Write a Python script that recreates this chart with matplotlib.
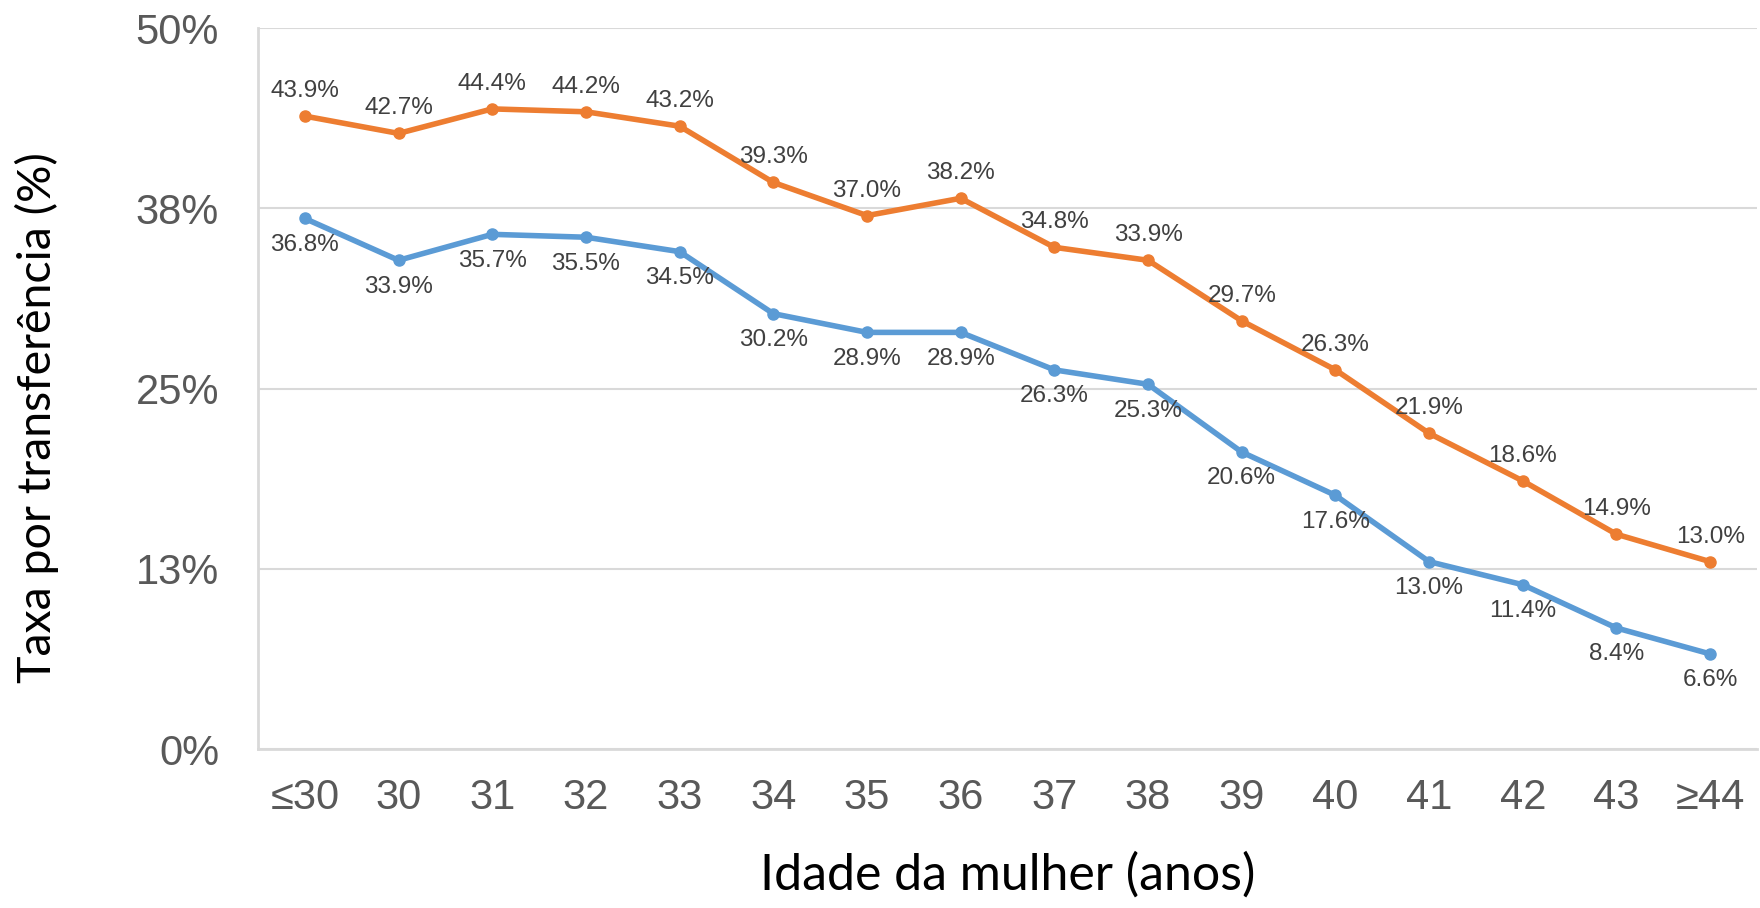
import matplotlib.pyplot as plt
from matplotlib.ticker import FuncFormatter

idades = ['≤30', '30', '31', '32', '33', '34', '35', '36', '37', '38',
          '39', '40', '41', '42', '43', '≥44']
serie_laranja = [43.9, 42.7, 44.4, 44.2, 43.2, 39.3, 37.0, 38.2, 34.8, 33.9,
                 29.7, 26.3, 21.9, 18.6, 14.9, 13.0]
serie_azul = [36.8, 33.9, 35.7, 35.5, 34.5, 30.2, 28.9, 28.9, 26.3, 25.3,
              20.6, 17.6, 13.0, 11.4, 8.4, 6.6]
y_ticks = [0, 12.5, 25, 37.5, 50]

laranja = '#ED7D31'
azul = '#5B9BD5'
cinza = '#D9D9D9'

plt.rcParams['font.family'] = ['Liberation Sans', 'DejaVu Sans']

fig = plt.figure(figsize=(17.6, 9.08), dpi=100)
ax = fig.add_axes([0.1466, 0.175, 0.8517, 0.794])

x = list(range(len(idades)))
ax.plot(x, serie_laranja, color=laranja, lw=4, marker='o', ms=8, zorder=3)
ax.plot(x, serie_azul, color=azul, lw=4, marker='o', ms=8, zorder=3)

for i in x:
    ax.annotate(f'{serie_laranja[i]:.1f}%', (i, serie_laranja[i]),
                xytext=(0, 18), textcoords='offset points',
                ha='center', va='center', fontsize=17.5, color='#404040')
    ax.annotate(f'{serie_azul[i]:.1f}%', (i, serie_azul[i]),
                xytext=(0, -19), textcoords='offset points',
                ha='center', va='center', fontsize=17.5, color='#404040')

ax.set_xlim(-0.5, len(idades) - 0.5)
ax.set_ylim(0, 50)
ax.set_xticks(x)
ax.set_xticklabels(idades)
ax.set_yticks(y_ticks)
ax.yaxis.set_major_formatter(FuncFormatter(lambda v, p: f'{v:.0f}%' if v != 12.5 else '13%'))
ax.tick_params(axis='both', length=0, labelsize=30, colors='#595959')
ax.tick_params(axis='x', pad=21)
ax.tick_params(axis='y', pad=28)

ax.grid(axis='y', color=cinza, lw=1.5)
ax.set_axisbelow(True)
for s in ['top', 'right']:
    ax.spines[s].set_visible(False)
for s in ['left', 'bottom']:
    ax.spines[s].set_color(cinza)
    ax.spines[s].set_linewidth(2)

ax.set_xlabel('Idade da mulher (anos)', fontsize=36, family=['Lato', 'DejaVu Sans'],
              color='black', labelpad=24)
ax.set_ylabel('Taxa por transferência (%)', fontsize=33.5, family=['Lato', 'DejaVu Sans'],
              color='black')
ax.yaxis.set_label_coords(-0.133, 0.46)

fig.savefig('out.png', dpi=100)
